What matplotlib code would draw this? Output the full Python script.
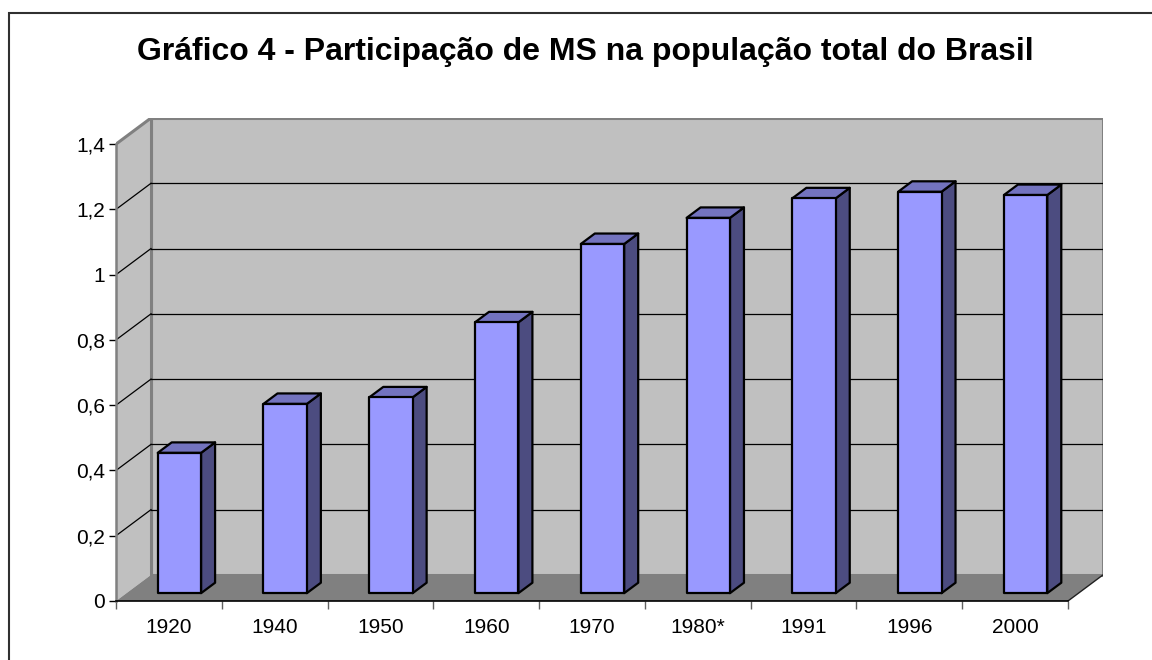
import matplotlib
matplotlib.use("Agg")
import matplotlib.pyplot as plt
from matplotlib.patches import Polygon, Rectangle

plt.rcParams["font.family"] = ["Liberation Sans", "DejaVu Sans"]

# Dados do gráfico
anos = ["1920", "1940", "1950", "1960", "1970", "1980*", "1991", "1996", "2000"]
participacao = [0.43, 0.58, 0.60, 0.83, 1.07, 1.15, 1.21, 1.23, 1.22]
y_ticks = [0, 0.2, 0.4, 0.6, 0.8, 1.0, 1.2, 1.4]
y_labels = ["0", "0,2", "0,4", "0,6", "0,8", "1", "1,2", "1,4"]

# Profundidade do efeito 3D (em unidades de categoria / valor)
dx, dy = 0.331, 0.080
y_max = 1.4
largura = 0.41
f0, f1 = 0.30, 0.70  # posição da barra na profundidade

cor_frente = "#9999FF"
cor_topo = "#7373BF"
cor_lado = "#4C4C80"

fig = plt.figure(figsize=(11.52, 6.6), dpi=100)
ax = fig.add_axes([116 / 1152, 59 / 660, (1103 - 116) / 1152, (601 - 118) / 660])
n = len(anos)
x0, x1 = -0.5, n - 0.5
ax.set_xlim(x0, x1 + dx)
ax.set_ylim(0, y_max + dy)

# Parede de fundo, parede lateral e piso
ax.add_patch(Rectangle((x0 + dx, dy), x1 - x0, y_max, facecolor="#C0C0C0",
                       edgecolor="#808080", lw=2.2, zorder=1))
ax.add_patch(Polygon([(x0, 0), (x0 + dx, dy), (x0 + dx, y_max + dy), (x0, y_max)],
                     closed=True, facecolor="#C0C0C0", edgecolor="none", zorder=1))
ax.plot([x0, x0 + dx], [y_max, y_max + dy], color="#808080", lw=2.2, zorder=2)
ax.plot([x0 + dx, x0 + dx], [dy, y_max + dy], color="#808080", lw=2.2, zorder=2)

# Linhas de grade
for v in y_ticks[1:-1]:
    ax.plot([x0 + dx, x1 + dx], [v + dy, v + dy], color="black", lw=0.9, zorder=2)
    ax.plot([x0, x0 + dx], [v, v + dy], color="black", lw=0.9, zorder=2)

ax.add_patch(Polygon([(x0, 0), (x1, 0), (x1 + dx, dy), (x0 + dx, dy)], closed=True,
                     facecolor="#808080", edgecolor="none", zorder=3))
ax.plot([x1, x1 + dx], [0, dy], color="#202020", lw=1.0, zorder=3)

# Barras 3D
for i, v in enumerate(participacao):
    xl = i - largura / 2 + f0 * dx
    xr = xl + largura
    yb = f0 * dy
    ddx = (f1 - f0) * dx
    ddy = (f1 - f0) * dy
    kw = dict(closed=True, edgecolor="black", lw=1.6, joinstyle="round", zorder=5)
    ax.add_patch(Polygon([(xr, yb), (xr + ddx, yb + ddy), (xr + ddx, yb + ddy + v), (xr, yb + v)],
                         facecolor=cor_lado, **kw))
    ax.add_patch(Polygon([(xl, yb + v), (xr, yb + v), (xr + ddx, yb + v + ddy), (xl + ddx, yb + v + ddy)],
                         facecolor=cor_topo, **kw))
    ax.add_patch(Rectangle((xl, yb), largura, v, facecolor=cor_frente, edgecolor="black",
                           lw=1.6, joinstyle="round", zorder=6))

# Eixos
for s in ["top", "right"]:
    ax.spines[s].set_visible(False)
ax.spines["left"].set_bounds(0, y_max)
ax.spines["bottom"].set_bounds(x0, x1)
ax.spines["left"].set_zorder(4)
ax.spines["bottom"].set_zorder(4)
ax.spines["left"].set_linewidth(1.8)
ax.spines["left"].set_color("#808080")
ax.spines["bottom"].set_linewidth(1.2)
ax.set_yticks(y_ticks)
ax.set_yticklabels(y_labels, fontsize=15)
ax.tick_params(axis="y", length=5, width=1, pad=3, colors="black")
ax.set_xticks(range(n))
ax.set_xticklabels(anos, fontsize=15)
ax.set_xticks([x0 + k for k in range(n + 1)], minor=True)
ax.tick_params(axis="x", which="major", length=0, pad=12)
ax.tick_params(axis="x", which="minor", length=5.5, width=1, color="#606060")

fig.text(585 / 1152, 1 - 52 / 660, "Gráfico 4 - Participação de MS na população total do Brasil",
         ha="center", va="center", fontsize=23, fontweight="bold")

# Moldura externa
fig.patches.append(Rectangle((9 / 1152, -0.1), 1.2, (660 - 13) / 660 + 0.1,
                             transform=fig.transFigure, fill=False, edgecolor="#303030", lw=1.5))

fig.savefig("out.png", dpi=100)
